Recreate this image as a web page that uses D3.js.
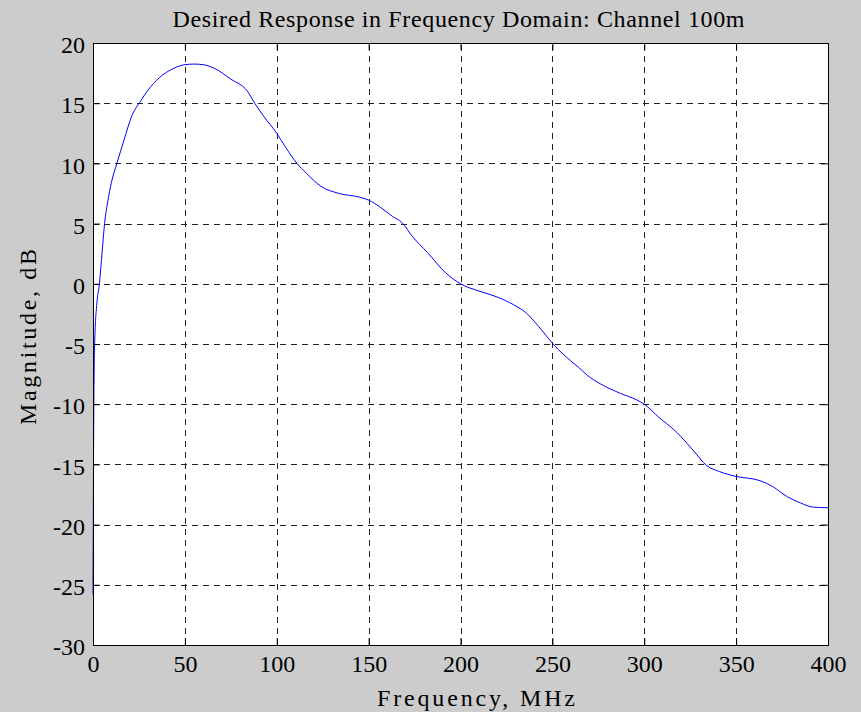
<!DOCTYPE html>
<html>
<head>
<meta charset="utf-8">
<script src="https://cdn.jsdelivr.net/npm/d3@7"></script>
<style>
  body { margin: 0; background: #cccccc; }
  text { font-family: "Liberation Serif", "Times New Roman", serif; fill: #000; }
</style>
</head>
<body>
<div class="chart"></div>
<script>
// values
var freqMHz = [0, 0.5, 1, 2, 3.5, 5, 6.3, 8, 10, 13,
	17, 21, 26, 30, 36, 44, 50, 55, 60, 66,
	75, 84, 88, 93, 100, 105, 111, 116, 124, 134,
	145, 150, 156, 163, 168, 174, 182, 192, 200, 210,
	220, 229, 236, 240, 245, 251, 260, 264, 269, 276,
	287, 296, 300, 308, 316, 320, 327, 334, 341, 350,
	363, 370, 378, 385, 392, 400];
var magnitudeDb = [-25.8, -9, -4.5, -1.8, 0, 2.7, 5, 6.8, 8.4, 10,
	12, 13.9, 15.2, 16.1, 17.1, 17.9, 18.2, 18.25, 18.2, 17.9,
	17.0, 16.0, 15.0, 13.9, 12.5, 11.3, 10.0, 9.2, 8.1, 7.5,
	7.2, 6.95, 6.4, 5.6, 5.1, 3.9, 2.6, 0.9, 0, -0.6,
	-1.1, -1.75, -2.45, -3.1, -4.0, -5.1, -6.4, -6.9, -7.6, -8.3,
	-9.1, -9.65, -10, -11.1, -12.1, -12.7, -13.9, -15.1, -15.6, -16,
	-16.35, -16.85, -17.7, -18.2, -18.55, -18.6];
var xTicks = [0, 50, 100, 150, 200, 250, 300, 350, 400];
var yTicks = [20, 15, 10, 5, 0, -5, -10, -15, -20, -25, -30];

var titleText = "Desired Response in Frequency Domain: Channel 100m";
var xLabel = "Frequency, MHz";
var yLabel = "Magnitude, dB";

var W = 861, H = 712;
var pLeft = 93, pRight = 828, pTop = 43, pBottom = 645;

var svg = d3.select(".chart").append("svg")
	.attr("width", W)
	.attr("height", H);

var x = d3.scaleLinear().domain([0, 400]).range([pLeft, pRight]);
var y = d3.scaleLinear().domain([-30, 20]).range([pBottom, pTop]);

// white plot area
svg.append("rect")
	.attr("x", pLeft).attr("y", pTop)
	.attr("width", pRight - pLeft).attr("height", pBottom - pTop)
	.attr("fill", "#fff");

// dashed grid
var grid = svg.append("g").attr("stroke", "#222").attr("stroke-dasharray", "6,5").attr("stroke-width", 1);
grid.selectAll(".gx").data(xTicks.slice(1, -1)).enter().append("line")
	.attr("x1", function(d){ return Math.round(x(d)) + 0.5; })
	.attr("x2", function(d){ return Math.round(x(d)) + 0.5; })
	.attr("y1", pBottom).attr("y2", pTop);
grid.selectAll(".gy").data(yTicks.slice(1, -1)).enter().append("line")
	.attr("y1", function(d){ return Math.round(y(d)) + 0.5; })
	.attr("y2", function(d){ return Math.round(y(d)) + 0.5; })
	.attr("x1", pLeft).attr("x2", pRight);

// the response curve
var pts = freqMHz.map(function(f, i){ return [f, magnitudeDb[i]]; });
var line = d3.line()
	.curve(d3.curveMonotoneX)
	.x(function(d){ return x(d[0]); })
	.y(function(d){ return y(d[1]); });
svg.append("path")
	.datum(pts)
	.attr("d", line)
	.attr("fill", "none")
	.attr("stroke", "#0000ff")
	.attr("stroke-width", 1);

// axes, matlab style: ticks pointing inward on all four sides
var tickLen = 7;
var fontSize = 24;
var plain = function(d){ return String(d); }; // ascii hyphen for negatives, like matlab
var xb = svg.append("g").attr("transform", "translate(0," + pBottom + ")")
	.call(d3.axisBottom(x).tickValues(xTicks).tickFormat(plain).tickSizeInner(-tickLen).tickSizeOuter(0).tickPadding(tickLen + 4));
var xt = svg.append("g").attr("transform", "translate(0," + pTop + ")")
	.call(d3.axisTop(x).tickValues(xTicks).tickSizeInner(-tickLen).tickSizeOuter(0).tickFormat(""));
var yl = svg.append("g").attr("transform", "translate(" + pLeft + ",0)")
	.call(d3.axisLeft(y).tickValues(yTicks).tickFormat(plain).tickSizeInner(-tickLen).tickSizeOuter(0).tickPadding(tickLen + 1));
var yr = svg.append("g").attr("transform", "translate(" + pRight + ",0)")
	.call(d3.axisRight(y).tickValues(yTicks).tickSizeInner(-tickLen).tickSizeOuter(0).tickFormat(""));

[xb, xt, yl, yr].forEach(function(g){
	g.select(".domain").attr("stroke", "#000");
	g.selectAll(".tick line").attr("stroke", "#000");
	g.selectAll("text")
		.style("font-family", "'Liberation Serif', 'Times New Roman', serif")
		.style("font-size", fontSize + "px")
		.attr("fill", "#000");
});
xb.selectAll("text").attr("dy", "0.65em");
yl.selectAll("text").attr("dy", "0.4em");

// box
svg.append("rect")
	.attr("x", pLeft + 0.5).attr("y", pTop + 0.5)
	.attr("width", pRight - pLeft).attr("height", pBottom - pTop)
	.attr("fill", "none").attr("stroke", "#000");

//Title and labels (matlab spreads its letters, so stretch to the same width)
svg.append("text")
	.text(titleText)
	.attr("x", (pLeft + pRight) / 2 - 2).attr("y", 27)
	.attr("text-anchor", "middle")
	.attr("textLength", 572)
	.attr("lengthAdjust", "spacing")
	.style("font-size", "24px");

svg.append("text")
	.text(xLabel)
	.attr("x", 476).attr("y", 706)
	.attr("text-anchor", "middle")
	.attr("textLength", 198)
	.attr("lengthAdjust", "spacing")
	.style("font-size", fontSize + "px");

svg.append("text")
	.text(yLabel)
	.attr("transform", "translate(36," + 337 + ") rotate(-90)")
	.attr("text-anchor", "middle")
	.attr("textLength", 176)
	.attr("lengthAdjust", "spacing")
	.style("font-size", fontSize + "px");
</script>
</body>
</html>
